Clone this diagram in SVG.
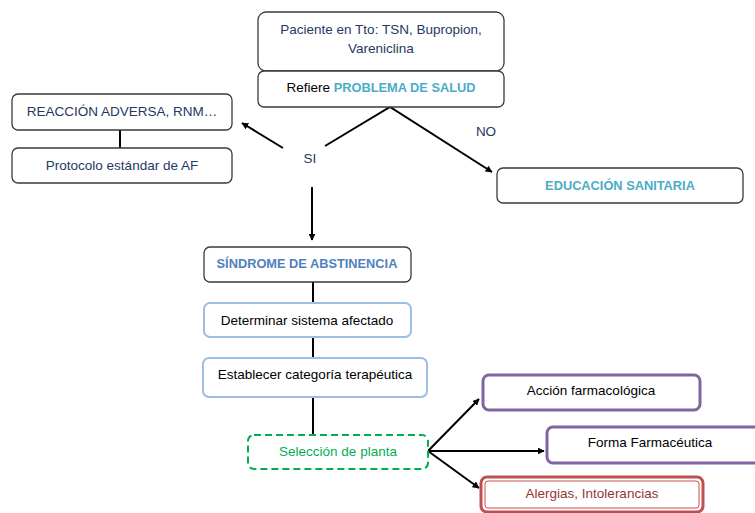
<svg xmlns="http://www.w3.org/2000/svg" width="755" height="513" viewBox="0 0 755 513">
<defs>
<marker id="ah" viewBox="0 0 10 10" refX="9" refY="5" markerWidth="7" markerHeight="7" orient="auto" markerUnits="userSpaceOnUse"><path d="M0,0 L10,5 L0,10 z" fill="#000"/></marker>
<style>
text{font-family:"Liberation Sans",Arial,sans-serif;font-size:13.5px;text-anchor:middle}
.box{fill:#fff;stroke:#3a3a3a;stroke-width:1.3}
.blue{fill:#fff;stroke:#9dbde3;stroke-width:2}
.purple{fill:#fff;stroke:#8064a2;stroke-width:3}
.navy{fill:#1f3864}
.teal{fill:#4bacc6;font-weight:bold;font-size:12.8px}
.line{stroke:#000;stroke-width:2;fill:none}
</style>
</defs>
<rect width="755" height="513" fill="#fff"/>
<g id="connectors">
<line class="line" x1="120" y1="130" x2="120" y2="148"/>
<line class="line" x1="283" y1="148" x2="242" y2="123" marker-end="url(#ah)"/>
<polyline class="line" points="325,146 390,107 492,172" marker-end="url(#ah)"/>
<line class="line" x1="312" y1="187" x2="312" y2="240" marker-end="url(#ah)"/>
<line class="line" x1="313" y1="282" x2="313" y2="303"/>
<line class="line" x1="313" y1="337" x2="313" y2="358"/>
<line class="line" x1="313" y1="397" x2="313" y2="435"/>
<line class="line" x1="428" y1="451" x2="479" y2="399" marker-end="url(#ah)"/>
<line class="line" x1="428" y1="451" x2="544" y2="451" marker-end="url(#ah)"/>
<line class="line" x1="428" y1="451" x2="479" y2="488" marker-end="url(#ah)"/>
</g>
<g id="paciente">
<rect class="box" x="258" y="12" width="246" height="59" rx="8"/>
<text class="navy" x="381" y="34">Paciente en Tto: TSN, Bupropion,</text>
<text class="navy" x="381" y="53">Vareniclina</text>
</g>
<g id="problema">
<rect class="box" x="258" y="71" width="246" height="36" rx="6"/>
<text x="381" y="92">Refiere <tspan class="teal">PROBLEMA DE SALUD</tspan></text>
</g>
<g id="reaccion">
<rect class="box" x="12" y="94" width="220" height="36" rx="6"/>
<text class="navy" x="122" y="116">REACCIÓN ADVERSA, RNM…</text>
</g>
<g id="protocolo">
<rect class="box" x="12" y="148" width="220" height="35" rx="6"/>
<text class="navy" x="122" y="170">Protocolo estándar de AF</text>
</g>
<g id="si"><text class="navy" x="310" y="163">SI</text></g>
<g id="no"><text class="navy" x="486" y="136">NO</text></g>
<g id="educacion">
<rect class="box" x="497" y="168" width="246" height="35" rx="6"/>
<text class="teal" x="620" y="190">EDUCACIÓN SANITARIA</text>
</g>
<g id="sindrome">
<rect class="box" x="204" y="247" width="207" height="35" rx="6"/>
<text class="teal" x="307" y="268" style="fill:#4f81bd">SÍNDROME DE ABSTINENCIA</text>
</g>
<g id="determinar">
<rect class="blue" x="204" y="303" width="207" height="34" rx="6"/>
<text x="307" y="325">Determinar sistema afectado</text>
</g>
<g id="establecer">
<rect class="blue" x="203" y="358" width="224" height="39" rx="6"/>
<text x="315" y="379">Establecer categoría terapéutica</text>
</g>
<g id="seleccion">
<rect x="248" y="435" width="180" height="34" rx="6" fill="#fff" stroke="#00b050" stroke-width="2" stroke-dasharray="7,4"/>
<text x="338" y="456" fill="#00b050">Selección de planta</text>
</g>
<g id="accion">
<rect class="purple" x="483" y="375" width="217" height="35" rx="6"/>
<text x="591" y="395">Acción farmacológica</text>
</g>
<g id="forma">
<rect class="purple" x="547" y="427" width="215" height="36" rx="6"/>
<text x="650" y="447">Forma Farmacéutica</text>
</g>
<g id="alergias">
<rect x="481" y="477" width="222" height="35" rx="6" fill="#fff" stroke="#c0504d" stroke-width="3"/>
<rect x="485" y="481" width="214" height="27" rx="3" fill="none" stroke="#c0504d" stroke-width="1"/>
<text x="592" y="498" fill="#943634">Alergias, Intolerancias</text>
</g>
</svg>
